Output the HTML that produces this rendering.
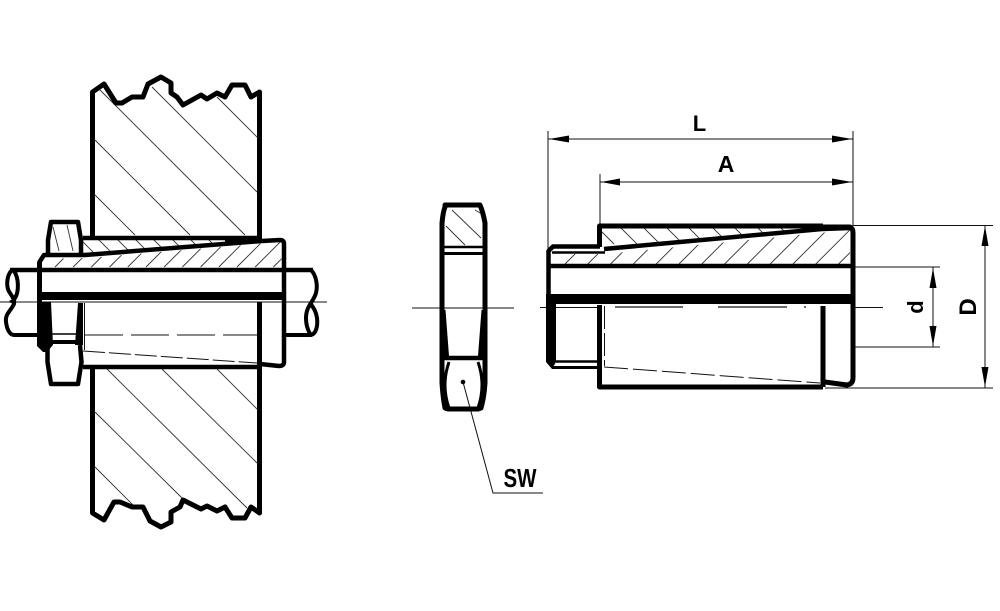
<!DOCTYPE html>
<html><head><meta charset="utf-8"><style>
html,body{margin:0;padding:0;background:#fff}
svg{display:block}
text{font-family:"Liberation Sans",sans-serif;font-weight:700;fill:#000}
</style></head><body>
<svg width="1000" height="611" viewBox="0 0 1000 611" xmlns="http://www.w3.org/2000/svg">
<defs>
<clipPath id="c1"><polygon points="42,259 87,258 281,242 282,268 42,268"/></clipPath>
<clipPath id="c2"><polygon points="83,239 262,239 83,256"/></clipPath>
<clipPath id="c3"><polygon points="551,254 606,254 850,230 850,264 551,264"/></clipPath>
<clipPath id="c4"><polygon points="600,227 825,227 604,249"/></clipPath>
</defs>
<rect width="1000" height="611" fill="#fff"/>

<!-- hatching -->
<g fill="none" stroke="#333" stroke-width="0.9">
<path d="M100 90L245 235M152 87L257 192M217 97L257 137M95 140L190 235M95 195L135 235"/>
<path d="M107 369L247 508M162 369L257 463M217 369L257 409M95 412L182 498M95 467L133 505"/>
<path clip-path="url(#c1)" d="M55 267l32-32M73.200 267l32-32M91.400 267l32-32M109.600 267l32-32M127.800 267l32-32M146 267l32-32M164.200 267l32-32M182.400 267l32-32M200.600 267l32-32M218.800 267l32-32M237 267l32-32M255.200 267l32-32M273.400 267l32-32"/>
<path clip-path="url(#c2)" d="M80 239l25 25M98 239l25 25M117 239l25 25M135 239l25 25M153 239l25 25M172 239l25 25M190 239l25 25M208 239l25 25"/>
<path d="M53 227L59 251M67 225L73 251"/>
<path clip-path="url(#c3)" d="M565 264l40-40M587.800 264l40-40M610.600 264l40-40M633.400 264l40-40M656.200 264l40-40M679 264l40-40M701.800 264l40-40M724.600 264l40-40M747.400 264l40-40M770.200 264l40-40M793 264l40-40M815.800 264l40-40M838.600 264l40-40"/>
<path clip-path="url(#c4)" d="M602 232l12 12M620 227l25 25M643 227l25 25M666 227l25 25M688 227l25 25M712 227l25 25M734 227l25 25M757 227l25 25M780 227l25 25M803 227l25 25"/>
<path d="M452 210L481 238M446 226L465 245M475 210L480 213"/>
</g>

<!-- thin lines -->
<g fill="none" stroke="#111" stroke-width="1">
<path d="M0 302H327"/>
<path d="M412 308H514"/>
<path d="M540 307.500H600M855 307.500H883"/>
<path d="M548 131V250M853 131V226M600 174V226"/>
<path d="M548 139H853M600 182H853"/>
<path d="M853 225.500H993M825 388H993M853 267H940M853 347H940"/>
<path d="M985 225V388M933 267V347"/>
<path d="M463 382L493 493H543"/>
<path d="M85 335H258" stroke-dasharray="38 8"/>
<path d="M84.500 303V350" />
<path d="M83 351L257 363" stroke-dasharray="22 4"/>
<path d="M604.500 306V366" stroke-dasharray="23 4"/>
<path d="M604 367L820 383" stroke-dasharray="24 5"/>
<path d="M615 307H683M718 307H787M804 307H806" stroke-width="1.300"/>
</g>

<!-- arrowheads -->
<g fill="#000">
<polygon points="549,139 569,135.500 569,142.500"/>
<polygon points="852,139 832,135.500 832,142.500"/>
<polygon points="601,182 620,178.500 620,185.500"/>
<polygon points="852,182 832,178.500 832,185.500"/>
<polygon points="985,226 981.500,246 988.500,246"/>
<polygon points="985,387 981.500,367 988.500,367"/>
<polygon points="933,268 929.500,288 936.500,288"/>
<polygon points="933,346 929.500,326 936.500,326"/>
<circle cx="463" cy="382" r="2.300"/>
</g>

<!-- left assembly -->
<g fill="none" stroke="#000" stroke-width="5" stroke-linejoin="round">
<path d="M92.500 237V92L104 84L116 103L122 103L132 97L143 97L148 84L161 77L171 83L171 93L177 97L183 105L201 95L207 99L217 93L225 97L232 85L245 85L251 97L259.500 92V237"/>
<path d="M92.500 367V513L104 520L114 502L120 502L132 507L143 507L150 521L161 527L171 522L171 512L180 507L183 500L201 509L207 506L217 511L225 507L232 518L245 518L251 507L259.500 513V367"/>
<path d="M83 238H259" stroke-width="4.500"/>
<path d="M83 367H259" stroke-width="4.500"/>
<path d="M259.500 302V367"/>
<path d="M48 253L48 240L51 222H78L81 240V253" stroke-width="4.500"/>
<path d="M47.500 345L47.500 362L51 384H78L81.500 362L80 345" stroke-width="4.500"/>
<path d="M50 342H78" stroke-width="4"/>
<path d="M50 334H76" stroke-width="1.500"/>
<path d="M39.500 302V262L44 255H85L262 241L280 240Q284 240 284 244V362Q284 366 279 366L260 364" stroke-width="4.500"/>
<path d="M39.500 262V302"/>
<path d="M10 270H313" stroke-width="4.500"/>
<path d="M12 270C6 276 6 288 10 293C13 298 15 300 14 304C10 312 5 314 6 322C7 330 10 335 14 335H38" stroke-width="4"/>
<path d="M14 271C19 278 19 292 15 298C13 302 12 302 11 300" stroke-width="4"/>
<path d="M285 335H311C316 334 318 326 317 318C316 310 312 306 310 303" stroke-width="4"/>
<path d="M311 270C316 275 318 285 316 293C314 301 306 306 306 318C306 326 309 334 312 335" stroke-width="4"/>
</g>
<polygon points="37,302 51,302 53,345 47,352 43,352 37,346" fill="#000"/>
<polygon points="78,303 83,303 83,345 75,345" fill="#000"/>
<rect x="37" y="292" width="249" height="8" fill="#000"/>
<polygon points="225,244 262,240 262,236 225,237" fill="#000"/>

<!-- middle nut -->
<g fill="none" stroke="#000" stroke-width="5" stroke-linejoin="round">
<path d="M445 205H480Q483 212 485 223V383Q484 398 481 408L478 409H448L445 408Q443 398 442 383V223Q443 212 445 207Z"/>
<path d="M449 362Q441 385 449 408" stroke-width="3"/>
<path d="M478 362Q486 385 478 408" stroke-width="3"/>
<path d="M443 358H484" stroke-width="4.500"/>
<path d="M443 247H484" stroke-width="2.500"/>
<path d="M443 253.500H484" stroke-width="3"/>
</g>
<polygon points="444,310 445.500,310 449,356 444,356" fill="#000"/>
<polygon points="483,310 481.500,310 478,356 483,356" fill="#000"/>

<!-- right assembly -->
<g fill="none" stroke="#000" stroke-width="5" stroke-linejoin="round">
<path d="M599.500 247V226H823"/>
<path d="M823 227L850 227Q853 228 853 233V378Q853 384 847 385L825 382"/>
<path d="M548.500 304V251L553 246.500H600" stroke-width="4.500"/>
<path d="M552 252.500H605" stroke-width="2.500"/>
<path d="M604 249L822 229L850 228" stroke-width="4.500"/>
<path d="M548 266H853" stroke-width="4.500"/>
<path d="M599.500 305V387H823"/>
<path d="M823 306V387"/>
<path d="M556 361.500H600" stroke-width="2.500"/>
<path d="M552 367.500H600" stroke-width="3"/>
</g>
<polygon points="546,304 556,304 556,362 552,369 546,362" fill="#000"/>
<rect x="546" y="294" width="309" height="10" fill="#000"/>

<!-- labels -->
<text x="699.500" y="131" font-size="22" text-anchor="middle">L</text>
<text x="726" y="172" font-size="23" text-anchor="middle">A</text>
<text transform="translate(923 307) rotate(-90)" font-size="22" text-anchor="middle">d</text>
<text transform="translate(976 307) rotate(-90)" font-size="24" text-anchor="middle">D</text>
<text x="520" y="487" font-size="26" text-anchor="middle" textLength="33" lengthAdjust="spacingAndGlyphs">SW</text>
</svg>
</body></html>
